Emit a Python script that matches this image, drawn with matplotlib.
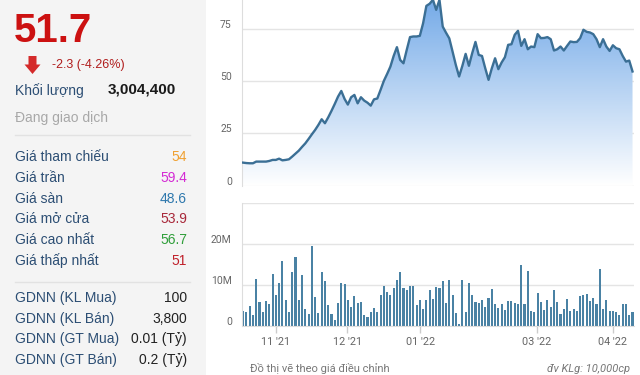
import numpy as np
import matplotlib
matplotlib.use("Agg")
from matplotlib import pyplot as plt
from matplotlib import transforms
from matplotlib.patches import Rectangle, Polygon

# closing price (thousand VND), one value per trading day
price = [11.0, 10.8, 10.7, 10.7, 11.5, 11.5, 11.5, 11.5, 11.8, 12.3,
         12.3, 12.9, 12.1, 12.3, 12.6, 13.9, 15.3, 16.7, 18.5, 20.2,
         22.3, 24.5, 26.6, 29.0, 31.7, 29.8, 32.6, 35.7, 39.0, 42.5,
         45.2, 41.4, 38.7, 42.2, 43.3, 39.3, 42.2, 40.6, 39.6, 38.2,
         41.2, 41.6, 45.7, 50.0, 53.3, 56.8, 61.9, 66.1, 60.0, 58.4,
         64.8, 70.9, 71.2, 71.2, 71.5, 77.5, 85.8, 86.8, 88.7, 83.9,
         88.7, 75.9, 73.0, 70.3, 64.0, 57.6, 52.1, 57.2, 62.9, 57.2,
         63.2, 68.6, 62.4, 61.9, 56.0, 50.5, 56.0, 60.8, 55.6, 58.8,
         61.3, 67.2, 67.5, 72.0, 73.9, 66.7, 69.9, 65.1, 66.4, 66.1,
         72.3, 70.4, 70.5, 70.9, 69.9, 64.5, 65.1, 66.4, 64.5, 66.7,
         68.8, 68.5, 68.6, 70.4, 74.4, 73.4, 73.1, 72.3, 69.9, 66.1,
         69.9, 66.4, 64.3, 67.0, 65.6, 65.1, 61.9, 59.2, 59.7, 54.5]

# volume in millions of shares
volume = [3.6, 3.4, 4.7, 2.6, 11.5, 5.8, 3.4, 6.1, 5.3, 12.7,
          7.5, 10.4, 15.9, 6.3, 3.4, 13.2, 16.9, 6.3, 12.4, 4.1,
          2.9, 19.4, 7.1, 3.1, 13.2, 10.9, 5.1, 2.8, 1.4, 5.5,
          10.4, 10.2, 6.3, 4.6, 7.2, 5.5, 5.7, 2.6, 2.1, 3.4,
          4.3, 3.4, 7.5, 9.8, 8.2, 7.5, 9.3, 11.1, 13.2, 9.3,
          8.8, 9.8, 9.8, 5.1, 6.3, 4.2, 6.3, 8.8, 6.6, 9.4,
          9.3, 11.0, 5.6, 11.2, 7.5, 3.1, 0.5, 11.1, 3.4, 10.4,
          7.5, 5.8, 5.6, 6.3, 4.6, 6.7, 9.0, 5.3, 4.3, 5.3,
          3.9, 6.1, 6.1, 5.6, 5.3, 14.9, 5.3, 13.4, 3.6, 3.4,
          8.0, 5.8, 3.9, 6.3, 4.6, 8.8, 5.8, 2.9, 4.1, 6.6,
          3.6, 4.1, 3.6, 7.2, 7.5, 7.8, 6.0, 6.8, 5.3, 13.9,
          4.1, 6.3, 3.6, 3.6, 3.3, 2.5, 5.3, 5.3, 2.5, 3.4]

month_pos = [10, 31.8, 54.1, 89.8, 112.9]
month_labels = ["11 '21", "12 '21", "01 '22", "03 '22", "04 '22"]
price_ticks = [0, 25, 50, 75]
vol_ticks = [0, 10, 20, 30]
vol_tick_labels = ["0", "10M", "20M", ""]

info_rows = [("Giá tham chiếu", "54", "#f0a030"),
             ("Giá trần", "59.4", "#d42ad4"),
             ("Giá sàn", "48.6", "#2e78ad"),
             ("Giá mở cửa", "53.9", "#a8283a"),
             ("Giá cao nhất", "56.7", "#2f9e3a"),
             ("Giá thấp nhất", "51", "#c0202a")]
gdnn_rows = [("GDNN (KL Mua)", "100"),
             ("GDNN (KL Bán)", "3,800"),
             ("GDNN (GT Mua)", "0.01 (Tỷ)"),
             ("GDNN (GT Bán)", "0.2 (Tỷ)")]

W, H = 640, 375
fig = plt.figure(figsize=(6.4, 3.75), dpi=100)
plt.rcParams["font.family"] = ["Liberation Sans", "DejaVu Sans"]

# left info panel, drawn in pixel coordinates
bg = fig.add_axes([0, 0, 1, 1], zorder=0)
bg.set_xlim(0, W)
bg.set_ylim(H, 0)
bg.axis("off")
bg.add_patch(Rectangle((0, 0), 206, H, color="#f4f4f4", lw=0))

lab_c = "#2c4e74"
bg.text(14, 31, "51.7", fontsize=29, fontweight="bold", color="#cc1111", va="center")
bg.add_patch(Polygon([(28.5, 56), (36.5, 56), (36.5, 64.5), (40.5, 64.5),
                      (32.5, 74), (24.5, 64.5), (28.5, 64.5)], color="#d42a2a", lw=0))
bg.text(52, 65, "-2.3 (-4.26%)", fontsize=9, color="#b01c1c", va="center")
bg.text(15, 91, "Khối lượng", fontsize=10, color=lab_c, va="center")
bg.text(108, 89, "3,004,400", fontsize=11, fontweight="bold", color="#1a1a1a", va="center")
bg.text(15, 118, "Đang giao dịch", fontsize=10, color="#a8a8a8", va="center")
bg.plot([15, 190], [135, 135], color="#e2e2e2", lw=1)
for k, (name, val, c) in enumerate(info_rows):
    y = 157 + k * 20.8
    bg.text(15, y, name, fontsize=10, color=lab_c, va="center")
    bg.text(187, y, val, fontsize=10, color=c, va="center", ha="right")
bg.plot([15, 190], [281.7, 281.7], color="#e2e2e2", lw=1)
for k, (name, val) in enumerate(gdnn_rows):
    y = 298.3 + k * 20.6
    bg.text(15, y, name, fontsize=10, color=lab_c, va="center")
    bg.text(187, y, val, fontsize=10, color="#222222", va="center", ha="right")

bg.text(250, 374.5, "Đồ thị vẽ theo giá điều chỉnh", fontsize=8, color="#777777", va="bottom",
        family=["Roboto", "DejaVu Sans"])
bg.text(630, 374.5, "đv KLg: 10,000cp", fontsize=8, color="#777777", va="bottom", ha="right",
        style="italic", family=["Roboto", "DejaVu Sans"])

x = np.arange(len(price))
xmin, xmax = -0.5, 119.3
grid_c = "#e4e4e4"
tick_c = "#666666"
shift = transforms.ScaledTranslation(0, 0.05, fig.dpi_scale_trans)

# price panel
ax = fig.add_axes([241.5 / W, 1 - 185.7 / H, 392 / W, 185.7 / H], zorder=1)
ax.set_xlim(xmin, xmax)
ax.set_ylim(0, 88.6)
poly = ax.fill_between(x, price, 0, color="none", lw=0)
g = np.linspace(1, 0, 256).reshape(-1, 1, 1)
top = np.array([0.46, 0.67, 0.91]).reshape(1, 1, 3)
img = top * g + (1 - g)
im = ax.imshow(img, extent=[xmin, xmax, 0, 88.6], aspect="auto", origin="upper", zorder=1)
im.set_clip_path(poly.get_paths()[0], transform=ax.transData)
ax.plot(x, price, color="#3b6f95", lw=1.7, zorder=3)
ax.set_yticks(price_ticks)
ax.grid(axis="y", color=grid_c, lw=1)
ax.set_axisbelow(True)
ax.set_xticks([])
for s in ["top", "right", "bottom"]:
    ax.spines[s].set_visible(False)
ax.spines["left"].set_color("#dddddd")
ax.tick_params(axis="y", length=0, pad=7, labelsize=7.5, labelcolor=tick_c)
for t in ax.get_yticklabels():
    t.set_family(["Roboto", "DejaVu Sans"])
    t.set_transform(t.get_transform() + shift)

# volume panel
av = fig.add_axes([241.5 / W, 1 - 325.7 / H, 392 / W, 122.7 / H], zorder=1)
av.bar(x, volume, width=0.64, color="#4a82a4", lw=0, zorder=2)
av.set_xlim(xmin, xmax)
av.set_ylim(0, 30)
av.set_yticks(vol_ticks)
av.set_yticklabels(vol_tick_labels)
av.set_xticks(month_pos)
av.set_xticklabels(month_labels)
av.grid(axis="y", color=grid_c, lw=1)
av.set_axisbelow(True)
for s in ["top", "right"]:
    av.spines[s].set_visible(False)
av.spines["left"].set_color("#dddddd")
av.spines["bottom"].set_color("#dddddd")
av.tick_params(axis="y", length=0, pad=7, labelsize=7.5, labelcolor=tick_c)
av.tick_params(axis="x", length=5, width=1, color="#cccccc", pad=3, labelsize=7.8, labelcolor=tick_c)
for t in av.get_yticklabels():
    t.set_family(["Roboto", "DejaVu Sans"])
    t.set_transform(t.get_transform() + shift)
for t in av.get_xticklabels():
    t.set_family(["Roboto", "DejaVu Sans"])

fig.savefig("out.png", dpi=100)
